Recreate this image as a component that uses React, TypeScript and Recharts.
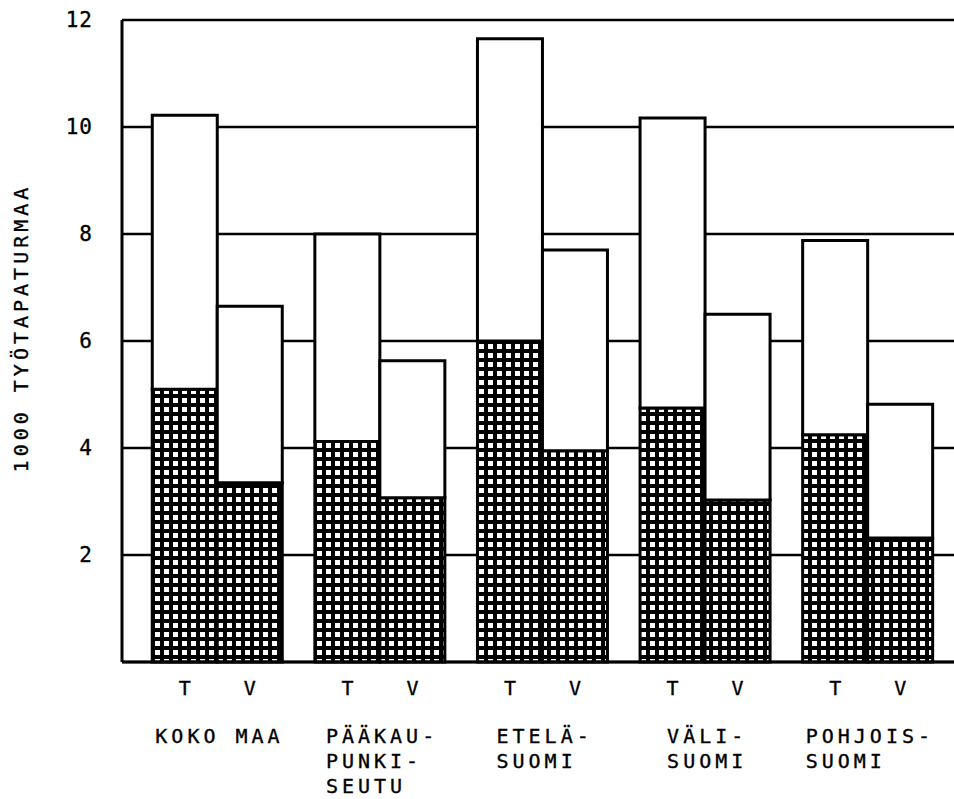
import React from 'react';
import { BarChart, Bar, XAxis, YAxis, CartesianGrid } from 'recharts';

// alueet, rivit erotettu \n:llä
const regions = ['KOKO MAA', 'PÄÄKAU-\nPUNKI-\nSEUTU', 'ETELÄ-\nSUOMI', 'VÄLI-\nSUOMI', 'POHJOIS-\nSUOMI'];
// T = työpaikalla, V = vapaa-aika ; ruudutettu osa + kokonaiskorkeus (1000 kpl)
const tHatched = [5.1, 4.12, 6.0, 4.75, 4.25];
const tTotal = [10.22, 8.0, 11.65, 10.17, 7.88];
const vHatched = [3.35, 3.07, 3.95, 3.03, 2.32];
const vTotal = [6.65, 5.63, 7.7, 6.5, 4.82];
const yTicks = [2, 4, 6, 8, 10, 12];
const barLetters = ['T', 'V'];
const yLabel = '1000 TYÖTAPATURMAA';

const data = regions.map((name, i) => ({
  name,
  tLow: tHatched[i],
  tHigh: tTotal[i] - tHatched[i],
  vLow: vHatched[i],
  vHigh: vTotal[i] - vHatched[i],
}));

const FONT = '"DejaVu Sans Mono", monospace';
const BAR = 65;
const CHAR = 16;

const RegionTick = (props: any) => {
  const { x, y, payload } = props;
  const lines: string[] = String(payload.value).split('\n');
  const longest = Math.max(...lines.map((l) => l.length));
  const left = x - (longest * CHAR - 4) / 2;
  return (
    <g fontFamily={FONT} fontSize={20} fill="#000" stroke="#000" strokeWidth={0.35}>
      {barLetters.map((l, i) => (
        <text key={l} x={x + (i === 0 ? -BAR / 2 : BAR / 2)} y={y + 33} textAnchor="middle">
          {l}
        </text>
      ))}
      <text textAnchor="start" letterSpacing={4}>
        {lines.map((l, i) => (
          <tspan key={i} x={left} y={y + 81 + i * 25}>
            {l}
          </tspan>
        ))}
      </text>
    </g>
  );
};

const YTitle = () => (
  <text
    x={21}
    y={328}
    transform="rotate(-90 21 328)"
    textAnchor="middle"
    dominantBaseline="central"
    fontFamily={FONT}
    fontSize={20}
    letterSpacing={4}
    fill="#000"
    stroke="#000"
    strokeWidth={0.35}
  >
    {yLabel}
  </text>
);

export default function App() {
  return (
    <div style={{ position: 'relative', width: 954, height: 799, background: '#fff' }}>
      <style>{'body{margin:0;background:#fff}'}</style>
      <svg width={0} height={0} style={{ position: 'absolute' }}>
        <defs>
          <pattern id="hatch" width={9} height={9} patternUnits="userSpaceOnUse">
            <rect width={9} height={9} fill="#000" />
            <rect x={2} y={2} width={5} height={5} fill="#fff" />
          </pattern>
        </defs>
      </svg>
      <BarChart
        width={954}
        height={799}
        data={data}
        margin={{ top: 20, right: 0, bottom: 0, left: 0 }}
        barGap={0}
        barCategoryGap="10%"
      >
        <CartesianGrid horizontal vertical={false} stroke="#000" strokeWidth={2.5} />
        <XAxis
          dataKey="name"
          height={137}
          padding={{ left: 14, right: 5 }}
          axisLine={{ stroke: '#000', strokeWidth: 3 }}
          tickLine={false}
          tickSize={0}
          tickMargin={0}
          interval={0}
          tick={<RegionTick />}
        />
        <YAxis
          width={122}
          domain={[0, 12]}
          ticks={yTicks}
          axisLine={{ stroke: '#000', strokeWidth: 3 }}
          tickLine={false}
          tickSize={0}
          tickMargin={29}
          tick={{ fill: '#000', stroke: '#000', strokeWidth: 0.35, fontFamily: FONT, fontSize: 21, letterSpacing: 1 }}
          label={<YTitle />}
        />
        <Bar dataKey="tLow" stackId="T" fill="url(#hatch)" stroke="#000" strokeWidth={3} isAnimationActive={false} />
        <Bar dataKey="tHigh" stackId="T" fill="#fff" stroke="#000" strokeWidth={3} isAnimationActive={false} />
        <Bar dataKey="vLow" stackId="V" fill="url(#hatch)" stroke="#000" strokeWidth={3} isAnimationActive={false} />
        <Bar dataKey="vHigh" stackId="V" fill="#fff" stroke="#000" strokeWidth={3} isAnimationActive={false} />
      </BarChart>
    </div>
  );
}
